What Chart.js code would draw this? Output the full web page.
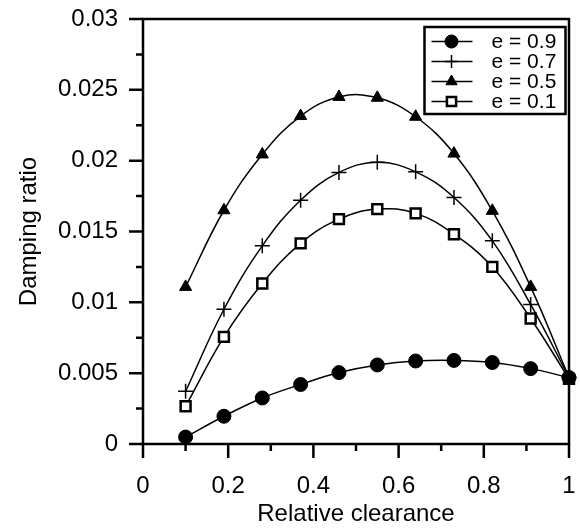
<!DOCTYPE html>
<html>
<head>
<meta charset="utf-8">
<script src="https://cdn.jsdelivr.net/npm/chart.js@4/dist/chart.umd.min.js"></script>
<style>
  html, body { margin: 0; padding: 0; background: #fff; }
  canvas { display: block; }
</style>
</head>
<body>
<canvas id="chart" width="580" height="531"></canvas>
<script>
// values
const clearance = [0.1, 0.19, 0.28, 0.37, 0.46, 0.55, 0.64, 0.73, 0.82, 0.91, 1.0];
const e09 = [0.00049, 0.00196, 0.00325, 0.0042, 0.00504, 0.00558, 0.00586, 0.0059, 0.00575, 0.00532, 0.00469];
const e07 = [0.00372, 0.00951, 0.01399, 0.01721, 0.01917, 0.01988, 0.01921, 0.0174, 0.01434, 0.00985, 0.0047];
const e05 = [0.01109, 0.0165, 0.02044, 0.02315, 0.0245, 0.02444, 0.0231, 0.0205, 0.01646, 0.01109, 0.0047];
const e01 = [0.00266, 0.00756, 0.01133, 0.01416, 0.01587, 0.01658, 0.01628, 0.01481, 0.0125, 0.00886, 0.0046];
const seriesLabels = ['e = 0.9', 'e = 0.7', 'e = 0.5', 'e = 0.1'];

const FONT = '"Liberation Sans", Arial, sans-serif';

const toPoints = ys => ys.map((y, i) => ({ x: clearance[i], y: y }));

const makeSet = (label, ys, style) => Object.assign({
    label: label,
    data: toPoints(ys),
    borderColor: '#000',
    borderWidth: 1.5,
    tension: 0.4,
    clip: false,
    pointBorderColor: '#000',
    pointBackgroundColor: '#000',
    pointBorderWidth: 1,
}, style);

// frame + major/minor tick marks, placed with the scales
const framePlugin = {
    id: 'frame',
    afterDraw(chart) {
        const ctx = chart.ctx;
        const a = chart.chartArea;
        const xs = chart.scales.x, ys = chart.scales.y;
        ctx.save();
        ctx.strokeStyle = '#000';
        ctx.lineWidth = 2.5;
        ctx.strokeRect(a.left, a.top, a.right - a.left, a.bottom - a.top);
        ctx.beginPath();
        for (let i = 0; i <= 10; i++) {
            const px = xs.getPixelForValue(i / 10);
            const len = i % 2 === 0 ? 14 : 7;
            ctx.moveTo(px, a.bottom);
            ctx.lineTo(px, a.bottom + len);
        }
        for (let i = 0; i <= 12; i++) {
            const py = ys.getPixelForValue(i * 0.0025);
            const len = i % 2 === 0 ? 14 : 7;
            ctx.moveTo(a.left, py);
            ctx.lineTo(a.left - len, py);
        }
        ctx.stroke();
        ctx.restore();
    }
};

// boxed legend inside the plot, line + marker per series
const legendPlugin = {
    id: 'boxLegend',
    afterDatasetsDraw(chart) {
        const ctx = chart.ctx;
        const a = chart.chartArea;
        const w = 141, h = 87;
        const left = a.right - 3.5 - w, top = a.top + 8;
        ctx.save();
        ctx.fillStyle = '#fff';
        ctx.fillRect(left, top, w, h);
        ctx.strokeStyle = '#000';
        ctx.lineWidth = 2.5;
        ctx.strokeRect(left, top, w, h);
        chart.data.datasets.forEach((ds, i) => {
            const y = top + 14.5 + i * 20;
            ctx.strokeStyle = '#000';
            ctx.lineWidth = 1.5;
            ctx.beginPath();
            ctx.moveTo(left + 7, y);
            ctx.lineTo(left + 48, y);
            ctx.stroke();
            ctx.fillStyle = ds.pointBackgroundColor;
            ctx.strokeStyle = '#000';
            ctx.lineWidth = ds.pointBorderWidth;
            Chart.helpers.drawPoint(ctx, {
                pointStyle: ds.pointStyle,
                radius: ds.legendRadius,
                rotation: 0,
                borderWidth: ds.pointBorderWidth
            }, left + 27, y);
            ctx.fillStyle = '#000';
            ctx.font = '21px ' + FONT;
            ctx.textAlign = 'left';
            ctx.textBaseline = 'middle';
            ctx.fillText(ds.label, left + 67, y + 1);
        });
        ctx.restore();
    }
};

new Chart(document.getElementById('chart'), {
    type: 'line',
    data: {
        datasets: [
            makeSet(seriesLabels[0], e09, { pointStyle: 'circle', pointRadius: 7, legendRadius: 6.5 }),
            makeSet(seriesLabels[1], e07, { pointStyle: 'cross', pointRadius: 7.5, pointBorderWidth: 1.5, legendRadius: 6.5 }),
            makeSet(seriesLabels[2], e05, { pointStyle: 'triangle', pointRadius: 7, legendRadius: 6.5 }),
            makeSet(seriesLabels[3], e01, { pointStyle: 'rect', pointRadius: 7, pointBackgroundColor: '#fff', pointBorderWidth: 2.5, legendRadius: 6.5 }),
        ]
    },
    options: {
        responsive: false,
        animation: false,
        events: [],
        layout: { padding: { top: 19, right: 11, left: 0, bottom: 0 }, autoPadding: false },
        plugins: {
            legend: { display: false },
            tooltip: { enabled: false }
        },
        scales: {
            x: {
                type: 'linear',
                min: 0,
                max: 1,
                grid: { display: false, drawTicks: false },
                border: { display: false },
                ticks: {
                    stepSize: 0.2,
                    color: '#000',
                    font: { family: FONT, size: 24 },
                    padding: 28,
                    maxRotation: 0,
                    callback: v => String(+v.toFixed(1))
                },
                title: {
                    display: true,
                    text: 'Relative clearance',
                    color: '#000',
                    font: { family: FONT, size: 24 },
                    padding: { top: 0, bottom: 2 }
                },
                afterFit: s => {
                    s.height = 87;
                    s.paddingLeft = 0;
                    s.paddingRight = 0;
                }
            },
            y: {
                type: 'linear',
                min: 0,
                max: 0.03,
                grid: { display: false, drawTicks: false },
                border: { display: false },
                ticks: {
                    stepSize: 0.005,
                    color: '#000',
                    font: { family: FONT, size: 24 },
                    padding: 25,
                    callback: v => String(+v.toFixed(3))
                },
                title: {
                    display: true,
                    text: 'Damping ratio',
                    color: '#000',
                    font: { family: FONT, size: 24 },
                    padding: { top: 15, bottom: 0 }
                },
                afterFit: s => {
                    s.width = 143;
                    s.paddingTop = 0;
                    s.paddingBottom = 0;
                }
            }
        }
    },
    plugins: [framePlugin, legendPlugin]
});
</script>
</body>
</html>
